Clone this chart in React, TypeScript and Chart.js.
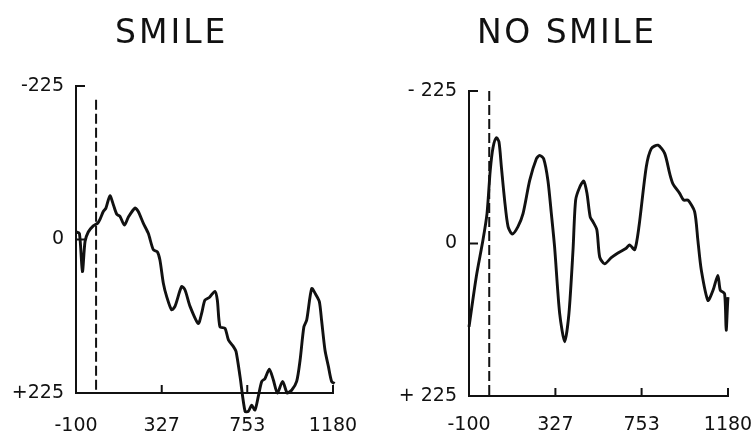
import React, { useEffect, useRef } from 'react';
import { Chart, registerables } from 'chart.js';

Chart.register(...registerables);

// ---- data ----
const xTicks = [-100, 327, 753, 1180];
const yTicks = [-225, 0, 225];
const onsetTime = 0;

const smileTime = [-100, -83, -68, -55, -39, -14, 8, 20, 36, 49, 69, 86, 103, 119, 141, 161, 194, 210, 235, 260, 285, 305, 318, 335, 352, 376, 393, 426, 443, 468, 509, 526, 542, 564, 592, 604, 617, 642, 659, 684, 697, 717, 742, 758, 775, 791, 808, 825, 841, 863, 883, 903, 929, 952, 974, 999, 1016, 1035, 1049, 1074, 1095, 1112, 1123, 1140, 1157, 1173, 1188];
const smileAmp = [-11, -9, 47, 3, -11, -20, -24, -30, -41, -46, -64, -51, -37, -34, -21, -33, -46, -41, -24, -9, 15, 18, 30, 64, 84, 103, 98, 69, 74, 98, 123, 108, 89, 85, 76, 89, 128, 130, 147, 157, 164, 201, 252, 252, 243, 250, 230, 208, 204, 190, 206, 225, 208, 225, 221, 208, 177, 128, 118, 72, 81, 91, 118, 162, 186, 208, 211];

const noSmileTime = [-100, -64, -31, -11, 5, 19, 35, 48, 60, 76, 93, 114, 142, 167, 200, 233, 249, 269, 290, 307, 323, 348, 373, 394, 414, 427, 447, 467, 483, 499, 513, 532, 546, 570, 603, 636, 677, 694, 719, 740, 776, 801, 834, 867, 892, 908, 941, 961, 982, 1015, 1031, 1048, 1081, 1106, 1130, 1142, 1163, 1171, 1180, 1188, 1196];
const noSmileAmp = [123, 49, -5, -44, -108, -142, -156, -150, -113, -64, -25, -14, -25, -44, -93, -125, -130, -125, -93, -44, 5, 103, 145, 103, 10, -64, -83, -92, -74, -39, -32, -20, 20, 30, 21, 14, 7, 2, 9, -25, -113, -140, -145, -133, -103, -88, -74, -64, -64, -47, -5, 39, 84, 69, 47, 69, 74, 128, 79, 69, 84];

const smileOnsetRange = [-205, 225];
const noSmileOnsetRange = [-225, 225];

const INK = '#111111';
const FONT_FAMILY = '"DejaVu Sans", "Liberation Sans", Arial, sans-serif';

const innerTicks = {
  id: 'innerTicks',
  afterDatasetsDraw(chart: any) {
    const { ctx, scales } = chart;
    const x = scales.x;
    const y = scales.y;
    ctx.save();
    ctx.strokeStyle = INK;
    ctx.lineWidth = 2;
    const yb = y.getPixelForValue(225);
    for (const v of xTicks.slice(1)) {
      const px = x.getPixelForValue(v);
      ctx.beginPath();
      ctx.moveTo(px, yb);
      ctx.lineTo(px, yb - 8);
      ctx.stroke();
    }
    const xl = x.getPixelForValue(-100);
    for (const v of [-225, 0]) {
      const py = y.getPixelForValue(v);
      ctx.beginPath();
      ctx.moveTo(xl, py);
      ctx.lineTo(xl + 9, py);
      ctx.stroke();
    }
    ctx.restore();
  },
};

type PanelProps = {
  left: number;
  width: number;
  height: number;
  padTop: number;
  padRight: number;
  yWidth: number;
  xHeight: number;
  xLabelGap: number;
  times: number[];
  amps: number[];
  onset: number[];
  yFmt: (v: number) => string;
};

function Panel(p: PanelProps) {
  const ref = useRef<HTMLCanvasElement | null>(null);
  useEffect(() => {
    if (!ref.current) return;
    const font = { family: FONT_FAMILY, size: 19 };
    const chart = new Chart(ref.current, {
      type: 'line',
      data: {
        datasets: [
          {
            data: p.times.map((t, i) => ({ x: t, y: p.amps[i] })),
            borderColor: INK,
            borderWidth: 2.9,
            pointRadius: 0,
            tension: 0.25,
            fill: false,
            clip: false as any,
          },
          {
            data: [
              { x: onsetTime, y: p.onset[0] },
              { x: onsetTime, y: p.onset[1] },
            ],
            borderColor: INK,
            borderWidth: 2,
            borderDash: [10, 4],
            pointRadius: 0,
            fill: false,
          },
        ],
      },
      options: {
        responsive: false,
        animation: false,
        layout: { padding: { top: p.padTop, right: p.padRight, left: 0, bottom: 0 } },
        plugins: { legend: { display: false }, tooltip: { enabled: false }, title: { display: false } },
        scales: {
          x: {
            type: 'linear',
            min: -100,
            max: 1180,
            // tick marks are not drawn (grid hidden); tickLength only spaces the labels
            grid: { display: false, drawTicks: true, tickLength: p.xLabelGap },
            border: { display: true, color: INK, width: 2 },
            ticks: {
              color: INK,
              font,
              padding: 0,
              maxRotation: 0,
              autoSkip: false,
              callback: (v: any) => String(v),
            },
            afterBuildTicks: (s: any) => {
              s.ticks = xTicks.map((v) => ({ value: v }));
            },
            afterFit: (s: any) => {
              s.height = p.xHeight;
            },
          },
          y: {
            type: 'linear',
            min: -225,
            max: 225,
            reverse: true,
            grid: { display: false, drawTicks: false },
            border: { display: true, color: INK, width: 2 },
            ticks: {
              color: INK,
              font,
              padding: 12,
              autoSkip: false,
              callback: (v: any) => p.yFmt(Number(v)),
            },
            afterBuildTicks: (s: any) => {
              s.ticks = yTicks.map((v) => ({ value: v }));
            },
            afterFit: (s: any) => {
              s.width = p.yWidth;
            },
          },
        },
      },
      plugins: [innerTicks],
    } as any);
    return () => chart.destroy();
  }, []);
  return (
    <canvas
      ref={ref}
      width={p.width}
      height={p.height}
      style={{ position: 'absolute', left: p.left, top: 0, width: p.width, height: p.height }}
    />
  );
}

const titleStyle: React.CSSProperties = {
  position: 'absolute',
  top: 12,
  fontFamily: FONT_FAMILY,
  fontSize: 33,
  letterSpacing: '3px',
  color: INK,
  lineHeight: '40px',
  whiteSpace: 'nowrap',
};

export default function App() {
  return (
    <div style={{ position: 'absolute', left: 0, top: 0, width: 753, height: 438, background: '#fff', overflow: 'hidden' }}>
      <Panel
        left={0}
        width={376}
        height={438}
        padTop={86}
        padRight={43}
        yWidth={76}
        xHeight={45}
        xLabelGap={22}
        times={smileTime}
        amps={smileAmp}
        onset={smileOnsetRange}
        yFmt={(v) => (v > 0 ? '+' + v : String(v))}
      />
      <Panel
        left={376}
        width={377}
        height={438}
        padTop={91}
        padRight={25}
        yWidth={93}
        xHeight={42}
        xLabelGap={18}
        times={noSmileTime}
        amps={noSmileAmp}
        onset={noSmileOnsetRange}
        yFmt={(v) => (v > 0 ? '+ ' + v : v < 0 ? '- ' + Math.abs(v) : String(v))}
      />
      <div style={{ ...titleStyle, left: 115 }}>SMILE</div>
      <div style={{ ...titleStyle, left: 477, letterSpacing: '2.5px' }}>NO SMILE</div>
    </div>
  );
}
